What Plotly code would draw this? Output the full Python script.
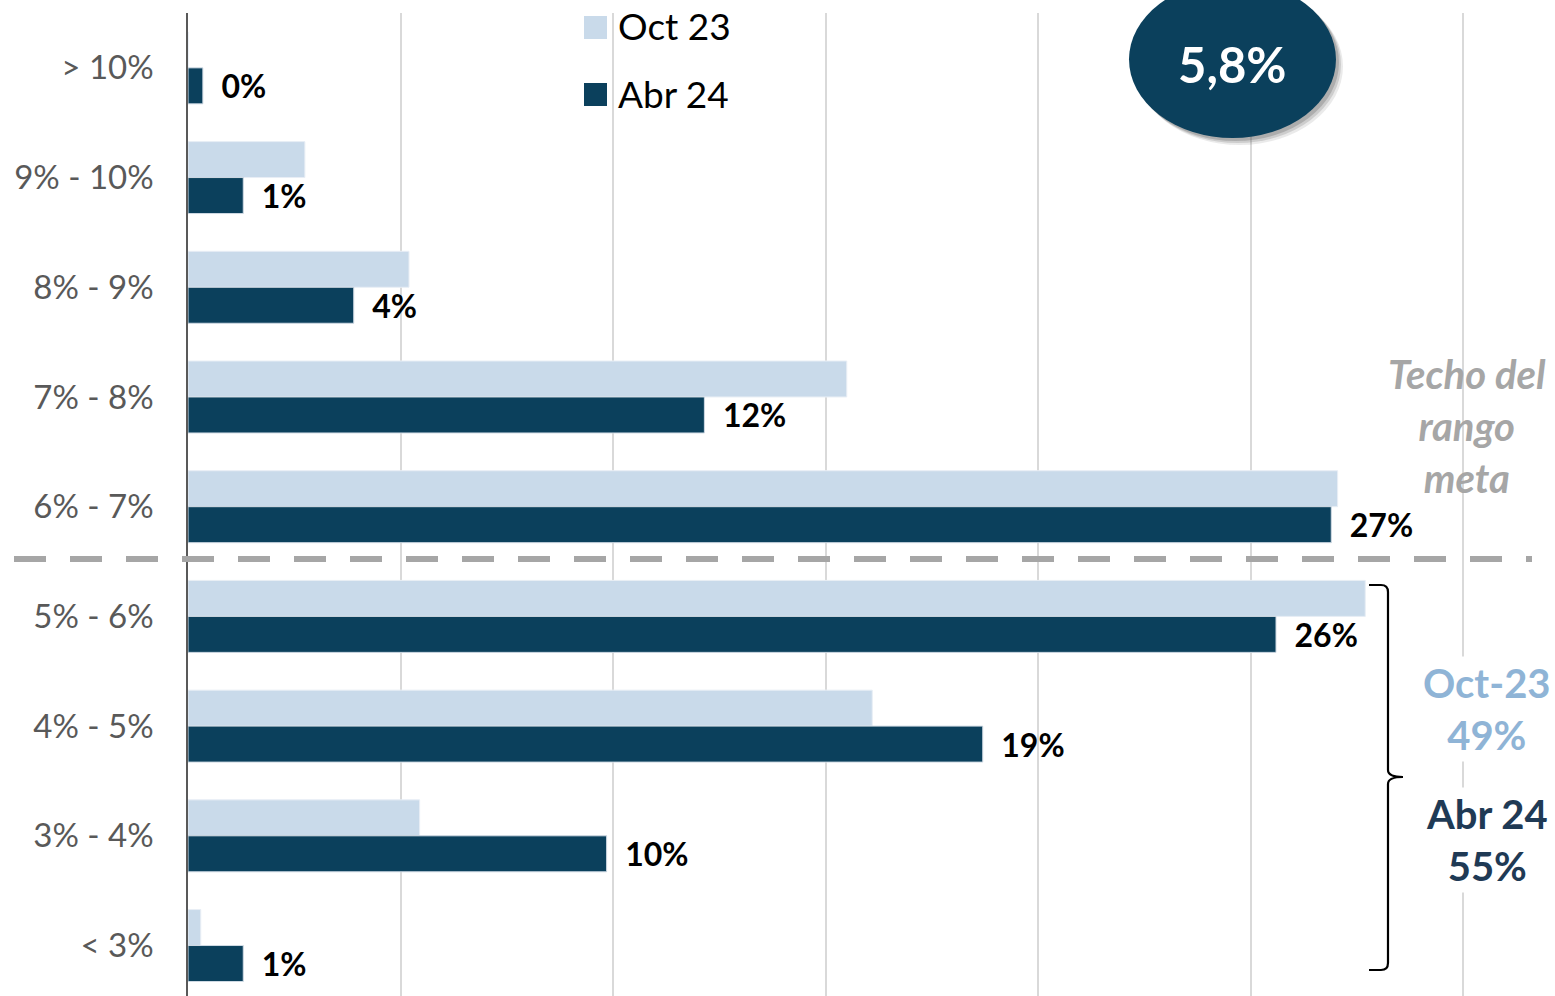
import plotly.graph_objects as go

categories = ["> 10%", "9% - 10%", "8% - 9%", "7% - 8%", "6% - 7%",
              "5% - 6%", "4% - 5%", "3% - 4%", "< 3%"]
oct23 = [0.0, 2.75, 5.2, 15.5, 27.05, 27.7, 16.1, 5.45, 0.3]
abr24 = [0.35, 1.3, 3.9, 12.15, 26.9, 25.6, 18.7, 9.85, 1.3]
abr24_labels = ["0%", "1%", "4%", "12%", "27%", "26%", "19%", "10%", "1%"]
series_names = ["Oct 23", "Abr 24"]
xticks = [0, 5, 10, 15, 20, 25, 30]

FONT = "Lato"
C_LIGHT = "#c9daea"
C_DARK = "#0b405c"

W, H = 1555, 996
ML, MR, MT, MB = 188, 0, 13, 0
PW, PH = W - ML - MR, H - MT - MB


def px(x):
    return (x - ML) / PW


def py(y):
    return 1 - (y - MT) / PH


fig = go.Figure()
fig.add_trace(go.Bar(
    y=categories, x=oct23, name=series_names[0], orientation="h",
    marker=dict(color=C_LIGHT, line=dict(color="#e8eef5", width=1)),
    hoverinfo="x+y",
))
fig.add_trace(go.Bar(
    y=categories, x=abr24, name=series_names[1], orientation="h",
    marker=dict(color=C_DARK, line=dict(color="#d0dae4", width=1)),
    text=["  " + t for t in abr24_labels], textposition="outside",
    textfont=dict(family=FONT, size=32, color="#000000", weight="bold"),
    constraintext="none", cliponaxis=False,
))

shapes = []
# dashed target line
shapes.append(dict(type="line", xref="paper", yref="paper",
                   x0=px(14), x1=px(1532), y0=py(559), y1=py(559),
                   line=dict(color="#a6a6a6", width=6, dash="32px,24px"), layer="above"))
# bubble shadow
for off, op in [(7, 0.12), (5, 0.18), (3, 0.25)]:
    shapes.append(dict(type="circle", xref="paper", yref="paper",
                       x0=px(1129 + off), x1=px(1336 + off), y0=py(-19 + off), y1=py(138 + off),
                       fillcolor="rgba(80,80,80,%s)" % op, line=dict(width=0), layer="above"))
shapes.append(dict(type="circle", xref="paper", yref="paper",
                   x0=px(1129), x1=px(1336), y0=py(-19), y1=py(138),
                   fillcolor=C_DARK, line=dict(width=0), layer="above"))
# legend squares
shapes.append(dict(type="rect", xref="paper", yref="paper",
                   x0=px(584), x1=px(607), y0=py(16), y1=py(39),
                   fillcolor=C_LIGHT, line=dict(width=0), layer="above"))
shapes.append(dict(type="rect", xref="paper", yref="paper",
                   x0=px(584), x1=px(607), y0=py(83), y1=py(106),
                   fillcolor=C_DARK, line=dict(width=0), layer="above"))


def P(x, y):
    return "%.5f,%.5f" % (px(x), py(y))


brace = ("M" + P(1369, 585) + " L" + P(1381, 585) + " Q" + P(1388, 585) + " " + P(1388, 592) +
         " L" + P(1388, 770) + " Q" + P(1388, 777) + " " + P(1403, 777) +
         " Q" + P(1388, 777) + " " + P(1388, 784) +
         " L" + P(1388, 963) + " Q" + P(1388, 970) + " " + P(1381, 970) + " L" + P(1369, 970))
shapes.append(dict(type="path", xref="paper", yref="paper", path=brace,
                   line=dict(color="#000000", width=2.2), layer="above"))

annotations = [
    dict(x=px(616), y=py(26), xref="paper", yref="paper", text=series_names[0],
         showarrow=False, xanchor="left", yanchor="middle",
         font=dict(family=FONT, size=37, color="#000000")),
    dict(x=px(616), y=py(93), xref="paper", yref="paper", text=series_names[1],
         showarrow=False, xanchor="left", yanchor="middle",
         font=dict(family=FONT, size=37, color="#000000")),
    dict(x=px(1232), y=py(64), xref="paper", yref="paper", text="5,8%",
         showarrow=False, xanchor="center", yanchor="middle",
         font=dict(family=FONT, size=49, color="#ffffff", weight="bold")),
    dict(x=px(1467), y=py(426), xref="paper", yref="paper",
         text="<i>Techo del<br>rango<br>meta</i>",
         showarrow=False, xanchor="center", yanchor="middle",
         font=dict(family=FONT, size=40, color="#a6a6a6", weight="bold")),
    dict(x=px(1487), y=py(709), xref="paper", yref="paper",
         text="Oct-23<br>49%", showarrow=False, xanchor="center", yanchor="middle",
         bgcolor="#ffffff", borderpad=2,
         font=dict(family=FONT, size=40, color="#8fb4d6", weight="bold")),
    dict(x=px(1487), y=py(840), xref="paper", yref="paper",
         text="Abr 24<br>55%", showarrow=False, xanchor="center", yanchor="middle",
         bgcolor="#ffffff", borderpad=2,
         font=dict(family=FONT, size=40, color="#1f3a55", weight="bold")),
]

fig.update_layout(
    width=W, height=H,
    margin=dict(l=ML, r=MR, t=MT, b=MB, pad=0),
    paper_bgcolor="#ffffff", plot_bgcolor="#ffffff",
    barmode="group", bargap=0.344, bargroupgap=0,
    showlegend=False,
    shapes=shapes, annotations=annotations,
    font=dict(family=FONT),
)
fig.update_xaxes(range=[0, PW / 42.5], tickvals=xticks, showticklabels=False,
                 showgrid=True, gridcolor="#d9d9d9", gridwidth=1.5,
                 zeroline=False, showline=False)
fig.update_yaxes(range=[8.46, -0.5], showgrid=False, showline=True,
                 linecolor="#595959", linewidth=1.5, ticks="",
                 tickfont=dict(family=FONT, size=33, color="#595959"),
                 ticklabelstandoff=26)

fig.write_html("out.html", config={"displayModeBar": False},
               post_script="document.body.style.margin='0px';document.body.style.overflow='hidden';")
